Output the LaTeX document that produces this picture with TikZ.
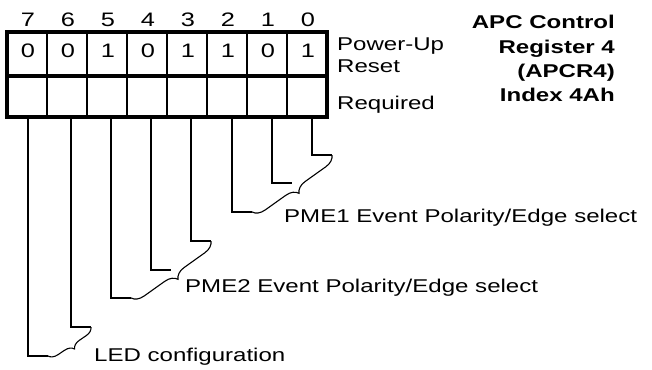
\documentclass[tikz,border=0pt]{standalone}
\usepackage{fontspec}
\setmainfont{Liberation Sans}[FakeStretch=1.3]
\usetikzlibrary{decorations.pathreplacing,positioning}
\tikzset{
  szoveg/.style={inner sep=0pt,font=\fontsize{18.5}{22}\selectfont},
  szam/.style={inner sep=0pt,font=\fontsize{19.5}{22}\selectfont},
  cim/.style={inner sep=0pt,align=right,font=\fontsize{18.5}{24.4}\selectfont\bfseries},
  keret/.style={line width=3.2pt},
  racs/.style={line width=1.2pt},
  lab/.style={line width=1.1pt},
  kapocs/.style={decorate,decoration={brace,amplitude=12pt},line width=1.1pt},
}
\begin{document}
\begin{tikzpicture}[x=1pt,y=-1pt]
  \useasboundingbox (0,0) rectangle (652,369);
  % regiszter
  \foreach \i in {1,...,7}
    \draw[racs] (7+40*\i,32) -- (7+40*\i,117);
  \draw[keret] (7,32) rectangle (327,117);
  \draw[keret] (7,76) -- (327,76);
  \foreach \b/\v [count=\i from 0] in {7/0,6/0,5/1,4/0,3/1,2/1,1/0,0/1} {
    \node[szam,anchor=base] (n\b) at (28+40*\i,27) {\b};
    \node[szam,anchor=base] (v\b) at (28+40*\i,57) {\v};
  }
  \node[szoveg,anchor=north west,align=left] (reset) at (337,37.5) {Power-Up\\Reset};
  \node[szoveg,anchor=base west] (req) at (337,109.5) {Required};
  \node[cim,anchor=north east] (nev) at (615,15) {APC Control\\Register 4\\(APCR4)\\Index 4Ah};
  % bitek lábai
  \foreach \b/\x/\y in {0/312/155,1/272/183,2/232/212,3/191/241,
                        4/151/270,5/111/298,6/71/327,7/28/356} {
    \coordinate (top\b) at (\x,117);
    \coordinate (end\b) at (\x+20,\y);
    \draw[lab] (top\b) |- (end\b);
  }
  \draw[kapocs] (end0) -- (end2);
  \draw[kapocs] (end3) -- (end5);
  \draw[kapocs,decoration={amplitude=9pt}] (end6) -- (end7);
  \node[szoveg,anchor=base west] (pme1) at (284,222) {PME1 Event Polarity/Edge select};
  \node[szoveg,anchor=base west] (pme2) at (185,292) {PME2 Event Polarity/Edge select};
  \node[szoveg,anchor=base west] (led) at (94,361) {LED configuration};
\end{tikzpicture}
\end{document}
